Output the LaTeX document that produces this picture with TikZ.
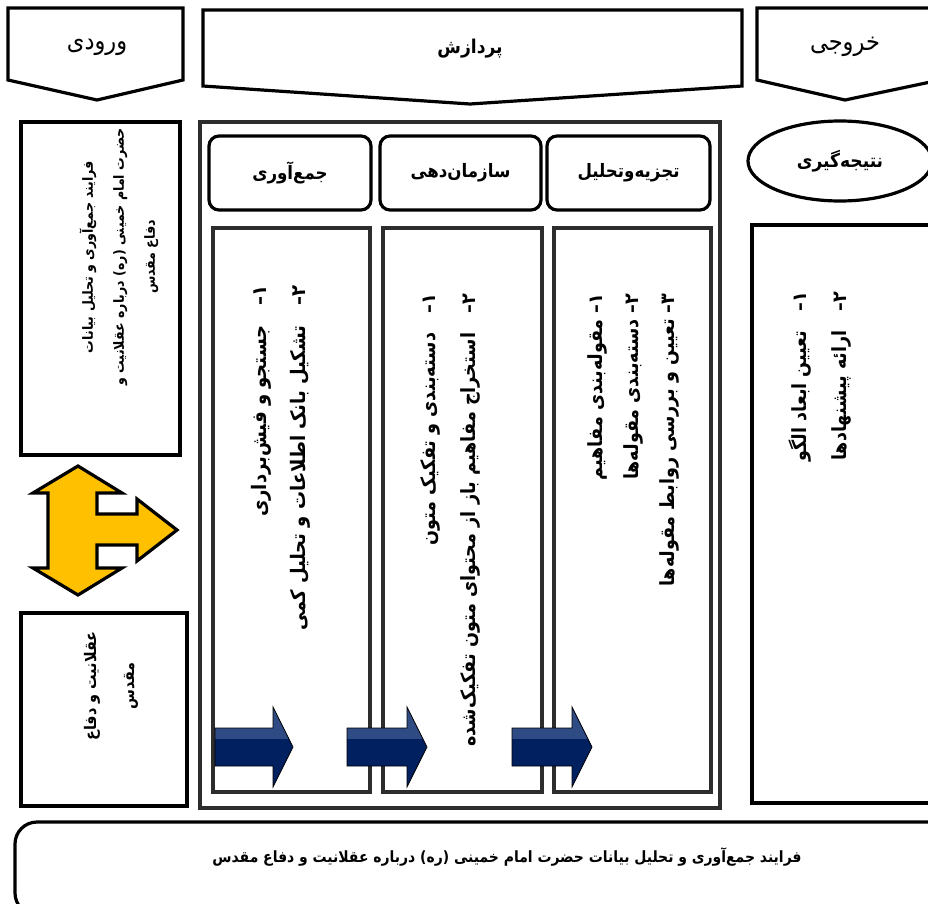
\documentclass[tikz,border=0pt]{standalone}
\usepackage{fontspec}
\newfontfamily\farsi[Script=Arabic, FakeStretch=0.9]{DejaVu Sans}
\TeXXeTstate=1
\newcommand{\fa}[1]{\beginR #1\endR}
\usetikzlibrary{shapes.geometric}

\definecolor{arrowgold}{RGB}{255,192,0}
\definecolor{arrownavy}{RGB}{0,32,96}
\definecolor{arrowsteel}{RGB}{47,75,132}
\definecolor{framegray}{RGB}{45,45,45}

% block arrow: #1 tail x, #2 tip x
\newcommand{\navyarrow}[2]{%
  \begin{scope}
    \clip (#1,728) -- (#2-20,728) -- (#2-20,707) -- (#2,747) -- (#2-20,787)
          -- (#2-20,766) -- (#1,766) -- cycle;
    \fill[arrownavy] (#1,700) rectangle (#2,790);
    \fill[arrowsteel] (#1,700) rectangle (#2,739);
  \end{scope}
  \draw[black, line width=0.8pt] (#1,728) -- (#2-20,728) -- (#2-20,707)
        -- (#2,747) -- (#2-20,787) -- (#2-20,766) -- (#1,766) -- cycle;
}

\begin{document}
\begin{tikzpicture}[x=1pt,y=-1pt,
  pent/.style={draw=black, line width=3.2pt, line join=miter},
  frame/.style={draw=black, line width=3.2pt},
  headbox/.style={draw=black, line width=3.2pt, rounded corners=10pt,
    minimum height=74pt, font=\farsi\bfseries\fontsize{18.5}{20}\selectfont},
  colbox/.style={draw=framegray, line width=3.2pt, minimum height=564pt},
  coltext/.style={rotate=90, anchor=east, align=right,
    font=\farsi\bfseries\fontsize{20}{39}\selectfont},
  sidetext/.style={rotate=90, align=center,
    font=\farsi\bfseries\fontsize{14}{31}\selectfont}
]
  \useasboundingbox (0,0) rectangle (928,903);
  \clip (0,0) rectangle (928,903);

  % top row
  \draw[pent] (8,8) -- (183,8) -- (183,80) -- (97,100) -- (8,80) -- cycle;
  \draw[pent] (203,10) -- (742,10) -- (742,86) -- (470,104) -- (203,86) -- cycle;
  \draw[pent] (757,8) -- (940,8) -- (940,80) -- (845,100) -- (757,80) -- cycle;
  \node[font=\farsi\fontsize{25}{28}\selectfont] (input) at (97,47) {\fa{ورودی}};
  \node[font=\farsi\bfseries\fontsize{19}{22}\selectfont] (process) at (470,49) {\fa{پردازش}};
  \node[font=\farsi\fontsize{25}{28}\selectfont] (output) at (845,47) {\fa{خروجی}};

  % input column
  \draw[frame] (21,122) rectangle (180,455);
  \node[sidetext] (inputtext) at (119,257)
    {\fa{فرایند جمع‌آوری و تحلیل بیانات}\\
     \fa{حضرت امام خمینی (ره) درباره عقلانیت و}\\
     \fa{دفاع مقدس}};
  \draw[frame, fill=arrowgold, line join=miter]
    (78,466) -- (122,493) -- (97,493) -- (97,514) -- (137,514) -- (137,499)
    -- (177,530) -- (137,561) -- (137,545) -- (97,545) -- (97,568) -- (122,568)
    -- (78,595) -- (33,568) -- (48,568) -- (48,493) -- (33,493) -- cycle;
  \draw[frame] (21,613) rectangle (187,806);
  \node[sidetext, font=\farsi\bfseries\fontsize{16}{38}\selectfont] (topic) at (111,686)
    {\fa{عقلانیت و دفاع}\\ \fa{مقدس}};

  % processing column
  \draw[draw=framegray, line width=3.2pt] (200,122) rectangle (720,808);
  \node[headbox, minimum width=162pt] (gather) at (290,173) {\fa{جمع‌آوری}};
  \node[headbox, minimum width=161pt] (organize) at (460.5,173) {\fa{سازمان‌دهی}};
  \node[headbox, minimum width=163pt] (analyse) at (628.5,173) {\fa{تجزیه‌وتحلیل}};
  \node[colbox, minimum width=157pt] (gathercol) at (291.5,510) {};
  \node[colbox, minimum width=159pt] (organizecol) at (462.5,510) {};
  \node[colbox, minimum width=157pt] (analysecol) at (632.5,510) {};

  \node[coltext] (gathertext) at (281,282)
    {\fa{۱–\quad جستجو و فیش‌برداری}\\
     \fa{۲–\quad تشکیل بانک اطلاعات و تحلیل کمی}};
  \node[coltext, font=\farsi\bfseries\fontsize{19.6}{40}\selectfont] (organizetext) at (450,290)
    {\fa{۱–\quad دسته‌بندی و تفکیک متون}\\
     \fa{۲–\quad استخراج مفاهیم باز از محتوای متون تفکیک‌شده}};
  \node[coltext, font=\farsi\bfseries\fontsize{19.5}{36}\selectfont] (analysetext) at (633,290)
    {\fa{۱– مقوله‌بندی مفاهیم}\\
     \fa{۲– دسته‌بندی مقوله‌ها}\\
     \fa{۳– تعیین و بررسی روابط مقوله‌ها}};

  \navyarrow{215}{293}
  \navyarrow{347}{427}
  \navyarrow{512}{592}

  % output column
  \node[ellipse, draw=black, line width=3.2pt, minimum width=184pt, minimum height=80pt,
    font=\farsi\bfseries\fontsize{19}{21}\selectfont] (conclude) at (840,161) {\fa{نتیجه‌گیری}};
  \draw[frame] (752,225) rectangle (940,803);
  \node[coltext, font=\farsi\bfseries\fontsize{19.5}{40}\selectfont] (outputtext) at (820,288)
    {\fa{۱–\quad تعیین ابعاد الگو}\\
     \fa{۲–\quad ارائه پیشنهادها}};

  % caption box
  \draw[frame, rounded corners=22pt] (15,822) rectangle (950,915);
  \node[font=\farsi\bfseries\fontsize{15.5}{18}\selectfont] (caption) at (507,857)
    {\fa{فرایند جمع‌آوری و تحلیل بیانات حضرت امام خمینی (ره) درباره عقلانیت و دفاع مقدس}};
\end{tikzpicture}
\end{document}
